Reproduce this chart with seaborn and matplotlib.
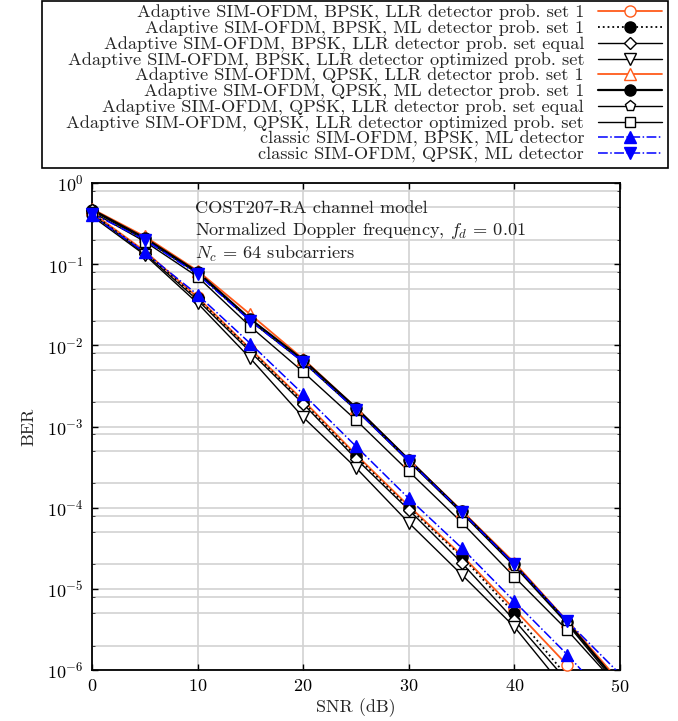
import numpy as np
import pandas as pd
import matplotlib
matplotlib.use("Agg")
import matplotlib.pyplot as plt
from matplotlib.patches import Rectangle
from matplotlib.ticker import LogLocator, LogFormatterSciNotation, NullFormatter, FixedLocator
import seaborn as sns

# ---------------- data ----------------
snr = [0, 5, 10, 15, 20, 25, 30, 35, 40, 45, 50]

bpsk_llr_set1 = [0.43, 0.145, 0.039, 0.0090, 0.0021, 4.5e-4, 1.05e-4, 2.6e-5, 5.6e-6, 1.15e-6, 2.0e-7]
bpsk_ml_set1 = [0.42, 0.14, 0.038, 0.0088, 0.0020, 4.3e-4, 1.0e-4, 2.5e-5, 5.0e-6, 8.3e-7, 1.4e-7]
bpsk_llr_equal = [0.41, 0.135, 0.036, 0.0083, 0.0019, 4.0e-4, 9.4e-5, 2.1e-5, 4.1e-6, 7.3e-7, 1.2e-7]
bpsk_llr_opt = [0.39, 0.13, 0.033, 0.0069, 0.0013, 3.1e-4, 6.5e-5, 1.5e-5, 3.4e-6, 5.4e-7, 9.0e-8]
qpsk_llr_set1 = [0.48, 0.22, 0.083, 0.024, 0.0068, 0.0017, 3.9e-4, 9.2e-5, 2.1e-5, 4.0e-6, 7.1e-7]
qpsk_ml_set1 = [0.47, 0.21, 0.080, 0.021, 0.0066, 0.0017, 3.9e-4, 9.0e-5, 2.0e-5, 3.9e-6, 6.5e-7]
qpsk_llr_equal = [0.46, 0.20, 0.077, 0.020, 0.0062, 0.0016, 3.7e-4, 8.6e-5, 1.9e-5, 3.7e-6, 6.0e-7]
qpsk_llr_opt = [0.44, 0.19, 0.070, 0.017, 0.0047, 0.0012, 2.8e-4, 6.6e-5, 1.4e-5, 3.1e-6, 5.9e-7]
classic_bpsk_ml = [0.40, 0.14, 0.042, 0.0105, 0.0025, 5.7e-4, 1.3e-4, 3.2e-5, 7.0e-6, 1.55e-6, 3.0e-7]
classic_qpsk_ml = [0.42, 0.20, 0.075, 0.020, 0.0062, 0.0016, 3.8e-4, 8.9e-5, 2.0e-5, 4.0e-6, 8.9e-7]

labels = [
    "Adaptive SIM-OFDM, BPSK, LLR detector prob. set 1",
    "Adaptive SIM-OFDM, BPSK, ML detector prob. set 1",
    "Adaptive SIM-OFDM, BPSK, LLR detector prob. set equal",
    "Adaptive SIM-OFDM, BPSK, LLR detector optimized prob. set",
    "Adaptive SIM-OFDM, QPSK, LLR detector prob. set 1",
    "Adaptive SIM-OFDM, QPSK, ML detector prob. set 1",
    "Adaptive SIM-OFDM, QPSK, LLR detector prob. set equal",
    "Adaptive SIM-OFDM, QPSK, LLR detector optimized prob. set",
    "classic SIM-OFDM, BPSK, ML detector",
    "classic SIM-OFDM, QPSK, ML detector",
]
series = [bpsk_llr_set1, bpsk_ml_set1, bpsk_llr_equal, bpsk_llr_opt,
          qpsk_llr_set1, qpsk_ml_set1, qpsk_llr_equal, qpsk_llr_opt,
          classic_bpsk_ml, classic_qpsk_ml]

ORANGE = "#ff5a1a"
BLUE = "#0000ff"
styles = [
    dict(color=ORANGE, ls="-", marker="o", mfc="white", lw=1.3),
    dict(color="black", ls=":", marker="o", mfc="black", lw=1.3),
    dict(color="black", ls="-", marker="D", mfc="white", lw=1.0, ms_scale=0.8),
    dict(color="black", ls="-", marker="v", mfc="white", lw=1.0),
    dict(color=ORANGE, ls="-", marker="^", mfc="white", lw=1.3),
    dict(color="black", ls="-", marker="o", mfc="black", lw=1.6),
    dict(color="black", ls="-", marker="p", mfc="white", lw=1.0),
    dict(color="black", ls="-", marker="s", mfc="white", lw=1.0, ms_scale=0.9),
    dict(color=BLUE, ls="-.", marker="^", mfc=BLUE, lw=1.1),
    dict(color=BLUE, ls="-.", marker="v", mfc=BLUE, lw=1.1),
]

# ---------------- style ----------------
sns.set_style("ticks")
plt.rcParams["font.family"] = ["cmr10", "DejaVu Serif"]
plt.rcParams["mathtext.fontset"] = "cm"
plt.rcParams["axes.formatter.use_mathtext"] = True
plt.rcParams["axes.unicode_minus"] = True

fig = plt.figure(figsize=(6.78, 7.21), dpi=100)
ax = fig.add_axes([92 / 678, 1 - 670 / 721, 528 / 678, 487 / 721])

YMIN, YMAX = 1e-6, 1.0
handles = []
for vals, lab, st in zip(series, labels, styles):
    st = dict(st)
    scale = st.pop("ms_scale", 1.0)
    ms = 8.0 * scale
    df = pd.DataFrame({"SNR": snr, "BER": vals})
    sns.lineplot(data=df, x="SNR", y="BER", ax=ax, color=st["color"],
                 linestyle=st["ls"], linewidth=st["lw"], marker=None,
                 label=None, zorder=3)
    # markers (not clipped at the axes edge, only those inside the y-range)
    inside = df[(df["BER"] >= YMIN) & (df["BER"] <= YMAX)]
    ax.plot(inside["SNR"], inside["BER"], ls="none", marker=st["marker"],
            ms=ms, mfc=st["mfc"], mec=st["color"], mew=1.0, clip_on=False, zorder=4)
    h, = ax.plot([], [], color=st["color"], ls=st["ls"], lw=st["lw"],
                 marker=st["marker"], ms=ms, mfc=st["mfc"], mec=st["color"], mew=1.0)
    handles.append(h)

ax.set_yscale("log")
ax.set_xlim(0, 50)
ax.set_ylim(YMIN, YMAX)
ax.set_xticks([0, 10, 20, 30, 40, 50])
ax.yaxis.set_major_locator(FixedLocator([10.0 ** e for e in range(-6, 1)]))
ax.yaxis.set_major_formatter(LogFormatterSciNotation(base=10))
ax.yaxis.set_minor_locator(FixedLocator([k * 10.0 ** e for e in range(-6, 0) for k in (2, 5, 8)]))
ax.yaxis.set_minor_formatter(NullFormatter())
ax.set_ylim(YMIN, YMAX)

ax.grid(True, which="major", color="#d2d2d2", lw=1.2, zorder=0)
ax.grid(True, which="minor", axis="y", color="#d2d2d2", lw=1.2, zorder=0)
ax.set_axisbelow(True)
ax.tick_params(which="major", direction="in", length=4, width=1.0,
               top=True, right=True, labelsize=13, colors="black", pad=6)
ax.tick_params(which="minor", direction="in", length=2, width=0.6, top=True, right=True)
for sp in ax.spines.values():
    sp.set_color("black")
    sp.set_linewidth(1.3)

ax.set_xlabel("SNR (dB)", fontsize=13, labelpad=2)
ax.set_ylabel("BER", fontsize=13, labelpad=8)

ax.text(0.195, 0.964,
        "COST207-RA channel model\nNormalized Doppler frequency, $f_d\\,=\\,0.01$\n$N_c\\,=\\,64$ subcarriers",
        transform=ax.transAxes, ha="left", va="top", fontsize=13.2, linespacing=1.25,
        color="#222222")

# legend frame (drawn as a box, wider than the entries like the original)
frame = Rectangle((42 / 678, 1 - 168 / 721), 626 / 678, 167 / 721,
                  transform=fig.transFigure, facecolor="white", edgecolor="black",
                  lw=1.2, zorder=5)
fig.patches.append(frame)

leg = fig.legend(handles, labels, loc="upper right",
                 bbox_to_anchor=(662 / 678, 1 - 5 / 721), bbox_transform=fig.transFigure,
                 borderaxespad=0, markerfirst=False, fontsize=13.2, labelspacing=-0.03,
                 handlelength=3.5, handletextpad=0.75, borderpad=0.0,
                 frameon=False)
leg.set_zorder(6)

fig.savefig("out.png", dpi=100)
